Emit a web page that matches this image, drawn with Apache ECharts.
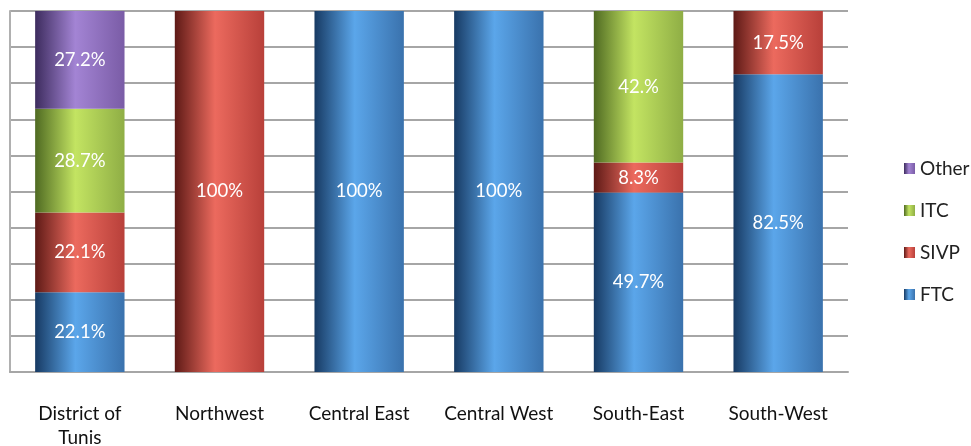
<!DOCTYPE html>
<html>
<head>
<meta charset="utf-8">
<script src="https://cdn.jsdelivr.net/npm/echarts@6/dist/echarts.min.js"></script>
<style>html,body{margin:0;padding:0;background:#fff}#c{width:971px;height:446px}</style>
</head>
<body>
<div id="c"></div>
<script>
const categories = ['District of\nTunis', 'Northwest', 'Central East', 'Central West', 'South-East', 'South-West'];
const ftc   = [22.1, null, 100, 100, 49.7, 82.5];
const sivp  = [22.1, 100, null, null, 8.3, 17.5];
const itc   = [28.7, null, null, null, 42, null];
const other = [27.2, null, null, null, null, null];
const ftcLabels   = ['22.1%', '', '100%', '100%', '49.7%', '82.5%'];
const sivpLabels  = ['22.1%', '100%', '', '', '8.3%', '17.5%'];
const itcLabels   = ['28.7%', '', '', '', '42.%', ''];
const otherLabels = ['27.2%', '', '', '', '', ''];
const yTicks = { min: 0, max: 100, interval: 10 };

const FONT = 'Lato, "Open Sans", sans-serif';
function grad(dark, light, mid) {
  return new echarts.graphic.LinearGradient(0, 0, 1, 0, [
    { offset: 0, color: dark },
    { offset: 0.45, color: light },
    { offset: 1, color: mid }
  ]);
}
function mk(name, data, labels, c) {
  return {
    name: name, type: 'bar', stack: 'total', data: data, barWidth: '64%',
    itemStyle: { color: c },
    label: {
      show: true, position: 'inside', color: '#fff', fontSize: 18.5, fontFamily: FONT,
      formatter: p => labels[p.dataIndex]
    }
  };
}
const chart = echarts.init(document.getElementById('c'));
chart.setOption({
  animation: false,
  grid: { left: 10, right: 123, top: 11, bottom: 74, containLabel: false, outerBoundsMode: 'none' },
  legend: {
    orient: 'vertical', left: 899, top: 154, itemWidth: 11, itemHeight: 11, itemGap: 23,
    data: ['Other', 'ITC', 'SIVP', 'FTC'],
    textStyle: { fontSize: 19, fontFamily: FONT, color: '#222' },
    icon: 'rect'
  },
  xAxis: {
    type: 'category', data: categories,
    axisLine: { show: true, lineStyle: { color: '#a6a6a6', width: 2 } },
    axisTick: { show: false },
    axisLabel: { fontSize: 19, fontFamily: FONT, color: '#111', margin: 30, lineHeight: 24, interval: 0 }
  },
  yAxis: {
    type: 'value', min: yTicks.min, max: yTicks.max, interval: yTicks.interval,
    axisLabel: { show: false }, axisTick: { show: false },
    axisLine: { show: true, lineStyle: { color: '#b0b0b0', width: 2 } },
    splitLine: { lineStyle: { color: '#a6a6a6', width: 2 } }
  },
  series: [
    mk('FTC', ftc, ftcLabels, grad('#173a63', '#5ba6ea', '#3a72ad')),
    mk('SIVP', sivp, sivpLabels, grad('#5e1a16', '#ec6a5e', '#b8403a')),
    mk('ITC', itc, itcLabels, grad('#4f6a22', '#c3e462', '#8fae45')),
    mk('Other', other, otherLabels, grad('#3d2c5e', '#a384d4', '#7a5ca6'))
  ]
});
</script>
</body>
</html>
